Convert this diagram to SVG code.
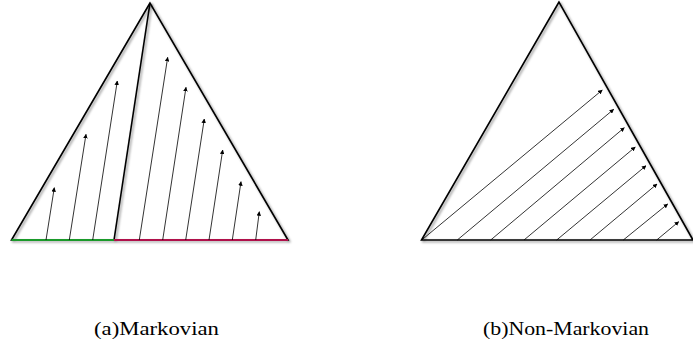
<svg xmlns="http://www.w3.org/2000/svg" width="693" height="347" viewBox="0 0 693 347">
<defs>
<filter id="sh" x="-10%" y="-10%" width="130%" height="130%">
<feDropShadow dx="1.5" dy="1.5" stdDeviation="1" flood-color="#000" flood-opacity="0.45"/>
</filter>
<marker id="ah" viewBox="0 0 10 10" refX="9" refY="5" markerWidth="4.5" markerHeight="4.5" markerUnits="userSpaceOnUse" orient="auto">
<path d="M0,0 L10,5 L0,10 Z" fill="#000"/>
</marker>
<style>
.tri{fill:none;stroke:#000;stroke-width:1.6;stroke-linejoin:miter;filter:url(#sh)}
.arr{stroke:#000;stroke-width:0.8;fill:none;marker-end:url(#ah)}
.lbl{font-family:"Liberation Serif","Times New Roman",serif;font-size:19px;fill:#000}
</style>
</defs>
<rect width="693" height="347" fill="#fff"/>
<g id="triangle-a">
<polygon class="tri" points="150,3 11.5,240 288,240"/>
<line class="tri" x1="150" y1="3" x2="114" y2="240"/>
<line x1="11.5" y1="240" x2="114" y2="240" stroke="#1a9a2a" stroke-width="2"/>
<line x1="114" y1="240" x2="288" y2="240" stroke="#b0104a" stroke-width="2"/>
</g>
<g id="triangle-b">
<polygon class="tri" points="559,2 421.5,240 693,240"/>
</g>
<g id="connectors">
<line class="arr" x1="46" y1="240" x2="54.3" y2="187.7"/>
<line class="arr" x1="69.3" y1="240" x2="86" y2="134.3"/>
<line class="arr" x1="92.7" y1="240" x2="117.3" y2="81"/>
<line class="arr" x1="139.3" y1="240" x2="167.7" y2="57.3"/>
<line class="arr" x1="162.7" y1="240" x2="186" y2="87.3"/>
<line class="arr" x1="185.7" y1="240" x2="204.3" y2="119"/>
<line class="arr" x1="209" y1="240" x2="222.7" y2="150"/>
<line class="arr" x1="232.3" y1="240" x2="241" y2="181.7"/>
<line class="arr" x1="255.7" y1="240" x2="259.3" y2="211.7"/>
<line class="arr" x1="421.7" y1="240" x2="602.3" y2="90"/>
<line class="arr" x1="457.3" y1="240" x2="613.7" y2="109.3"/>
<line class="arr" x1="490.7" y1="240" x2="624.3" y2="127.7"/>
<line class="arr" x1="524" y1="240" x2="635.3" y2="147"/>
<line class="arr" x1="556.7" y1="240" x2="646" y2="165.7"/>
<line class="arr" x1="590" y1="240" x2="657" y2="184"/>
<line class="arr" x1="623.3" y1="240" x2="667.7" y2="204"/>
<line class="arr" x1="656.7" y1="240" x2="678.7" y2="221.7"/>
</g>
<text class="lbl" x="94" y="335" textLength="125" lengthAdjust="spacingAndGlyphs">(a)Markovian</text>
<text class="lbl" x="483" y="335" textLength="166" lengthAdjust="spacingAndGlyphs">(b)Non-Markovian</text>
</svg>
